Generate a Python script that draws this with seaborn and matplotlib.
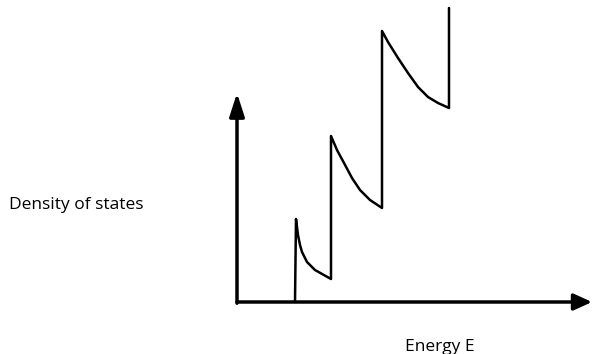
import numpy as np
import matplotlib.pyplot as plt
import seaborn as sns

# ===========================
# 1. DATA (arbitrary units)
# ===========================
energy = [58, 59, 61, 63, 65, 70, 78, 94,
          94, 100, 107, 115, 123, 133, 145,
          145, 151, 161, 171, 181, 191, 201, 212, 212]
dos = [0, 83, 67, 57, 50, 40, 32, 23,
       166, 152, 139, 124, 112, 102, 94,
       271, 260, 244, 229, 215, 205, 199, 194, 294]

x_label = "Energy E"
y_label = "Density of states"

# ===========================
# 2. PLOT
# ===========================
sns.set_style("white")
plt.rcParams['font.family'] = ['Open Sans', 'DejaVu Sans']

fig = plt.figure(figsize=(5.92, 3.54), dpi=100)
ax = fig.add_axes([0, 0, 1, 1])
ax.set_xlim(-237, 355)
ax.set_ylim(-52, 302)
ax.axis("off")

sns.lineplot(x=energy, y=dos, sort=False, estimator=None,
             color="black", linewidth=1.8, ax=ax)

# axes arrows
ax.annotate("", xy=(355, 0), xytext=(0, 0),
            arrowprops=dict(arrowstyle="-|>,head_length=1.1,head_width=0.5",
                            color="black", lw=2.5, shrinkA=0, shrinkB=0))
ax.annotate("", xy=(0, 209), xytext=(0, -1.2),
            arrowprops=dict(arrowstyle="-|>,head_length=1.4,head_width=0.45",
                            color="black", lw=2.5, shrinkA=0, shrinkB=0))

ax.text(-228, 93, y_label, fontsize=12.5, color="black", ha="left", va="baseline")
ax.text(203, -49, x_label, fontsize=12.5, color="black", ha="center", va="baseline")

plt.savefig("out.png", dpi=100)
plt.close()
